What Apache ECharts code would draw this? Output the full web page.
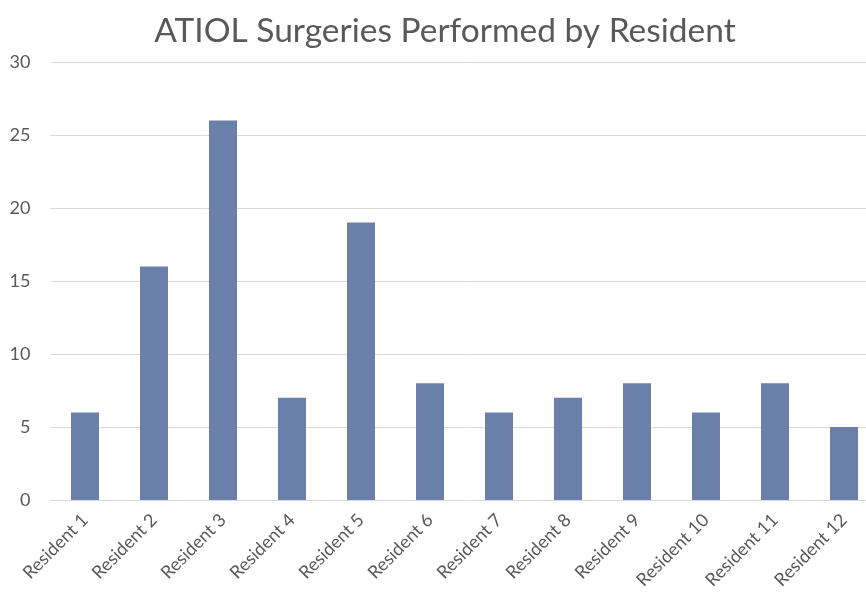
<!DOCTYPE html>
<html>
<head>
<meta charset="utf-8">
<script src="https://cdn.jsdelivr.net/npm/echarts@6/dist/echarts.min.js"></script>
<style>
  html, body { margin: 0; padding: 0; background: #fff; overflow: hidden; }
  /* the plot runs past the right edge of the window, as in the original crop */
  #chart { width: 880px; height: 594px; }
</style>
</head>
<body>
<div id="chart"></div>
<script>
const residents = [
  "Resident 1", "Resident 2", "Resident 3", "Resident 4", "Resident 5", "Resident 6",
  "Resident 7", "Resident 8", "Resident 9", "Resident 10", "Resident 11", "Resident 12"
];
const surgeries = [6, 16, 26, 7, 19, 8, 6, 7, 8, 6, 8, 5];

const font = "Lato, 'Open Sans', sans-serif";
const chart = echarts.init(document.getElementById("chart"));
chart.setOption({
  animation: false,
  title: {
    text: "ATIOL Surgeries Performed by Resident",
    left: 440,
    top: 9,
    textAlign: "center",
    textStyle: { fontFamily: font, fontSize: 33.5, fontWeight: "normal", color: "#595959" }
  },
  grid: { left: 50.5, right: 1.5, top: 62, bottom: 94, containLabel: false },
  xAxis: {
    type: "category",
    data: residents,
    axisLine: { lineStyle: { color: "#d9d9d9" } },
    axisTick: { show: false },
    axisLabel: {
      rotate: 45,
      interval: 0,
      margin: 17,
      fontFamily: font,
      fontSize: 18,
      color: "#595959"
    }
  },
  yAxis: {
    type: "value",
    min: 0,
    max: 30,
    interval: 5,
    axisLine: { show: false },
    axisTick: { show: false },
    splitLine: { lineStyle: { color: "#d9d9d9" } },
    axisLabel: { fontFamily: font, fontSize: 18, color: "#595959", margin: 20 }
  },
  series: [{
    type: "bar",
    data: surgeries,
    barWidth: 28,
    itemStyle: { color: "#6a7fa9" }
  }]
});
</script>
</body>
</html>
